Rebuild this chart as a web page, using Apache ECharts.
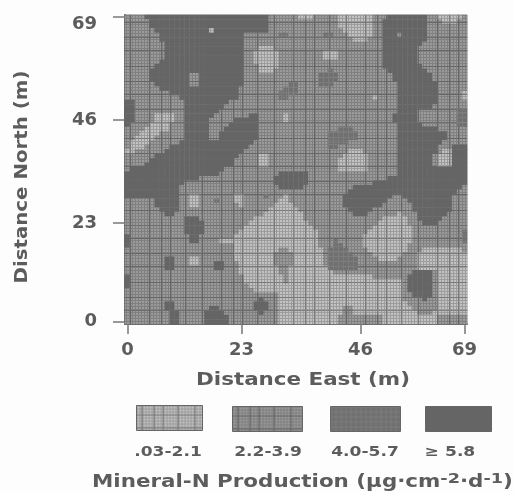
<!DOCTYPE html>
<html><head><meta charset="utf-8">
<style>html,body{margin:0;padding:0;background:#fdfdfd}#c{width:514px;height:492px;filter:blur(.6px)}</style>
<script src="https://cdn.jsdelivr.net/npm/echarts@6/dist/echarts.min.js"></script>
</head><body><div id="c"></div>
<script>
// Map rows from north (top) to south; each span is level:startColumn-endColumn, default level 2.
const levelRows = [
"4:4-29 1:35-38 1:43-50 4:53-61 1:63-68",
"4:5-29 1:43-50 4:52-61 1:64-67",
"4:5-29 1:43-50 4:52-61",
"4:6-29 1:17-18 1:44-50 4:52-61",
"4:7-24 3:31-33 3:40-42 1:45-50 4:52-61 2:55-56",
"4:7-24 1:46-49 4:52-61",
"4:8-24 4:52-60",
"4:8-24 1:27-30 4:52-59",
"4:8-24 1:26-31 1:40-43 4:52-59",
"4:8-24 1:26-31 1:40-43 4:52-59",
"4:7-24 1:26-31 4:52-59",
"4:6-24 1:27-31 4:52-60",
"4:5-24 1:27-30 3:41-42 4:53-61",
"4:5-24 2:13-15 3:39-43 4:54-62",
"4:5-24 2:13-15 3:39-43 4:54-62",
"4:6-24 2:13-15 3:33-35 3:39-42 4:55-63",
"4:7-23 3:32-35 4:55-63",
"4:9-23 3:31-35 4:55-63 1:68-69",
"4:11-23 3:31-33 1:50-51 4:55-63 1:68-69",
"4:0-2 4:12-21 4:55-63",
"4:0-2 4:12-20 4:55-62",
"4:0-2 4:12-19 4:55-59 3:67-69",
"4:0-2 1:6-10 4:12-18 4:25-27 1:32-33 4:54-59 3:67-69",
"4:0-2 1:6-10 4:12-17 4:22-27 1:32-33 4:54-59 3:67-69",
"4:0-1 1:5-9 4:12-17 4:21-27 4:55-60 3:67-69",
"1:4-9 4:12-17 4:20-27 3:43-46 4:55-63",
"1:3-7 4:12-17 4:19-27 3:41-47 4:55-65",
"1:2-6 4:12-17 4:19-27 3:41-47 4:55-65",
"1:1-5 4:11-26 3:41-45 4:55-64",
"1:1-4 4:9-25 3:41-43 4:55-63 4:66-69",
"1:0-2 4:8-24 1:45-48 4:55-63 1:64-66 4:66-69",
"4:6-23 1:27-29 1:44-49 4:55-62 1:63-66 4:66-69",
"4:5-22 1:27-29 1:43-49 4:55-62 1:63-66 4:66-69",
"4:4-22 1:27-29 1:43-49 4:55-62 1:63-66 4:66-69",
"4:1-20 1:43-49 4:55-69",
"4:0-19 4:31-37 4:55-69",
"4:0-15 4:30-37 4:53-69",
"4:0-12 4:30-37 4:50-69",
"4:0-11 4:31-36 4:46-68",
"4:0-11 4:45-67",
"4:0-11 1:13-15 1:22-24 3:28-29 1:32-33 4:44-54 4:56-66",
"4:6-11 1:13-15 3:18-19 1:22-24 1:31-33 4:44-53 4:57-66",
"4:6-11 1:13-15 1:23-24 1:30-34 4:44-52 4:58-66",
"4:7-11 1:29-35 4:45-50 4:58-66",
"4:8-10 1:28-36 4:46-49 1:55-56 4:59-65",
"4:12-15 1:26-36 1:52-57 4:59-64",
"4:12-16 1:25-37 1:51-57 4:60-63",
"4:12-16 1:24-38 1:50-58",
"4:12-16 1:23-39 1:49-58 3:68-69",
"4:13-15 4:0-1 1:22-39 1:48-58 3:68-69",
"4:13-15 4:0-1 1:19-39 3:42-43 1:48-58 3:68-69",
"4:0-1 1:22-39 3:42-44 1:48-57",
"1:22-40 2:31-33 3:41-45 1:49-57 1:60-68",
"1:22-40 2:30-34 3:41-46 1:50-56 1:59-69",
"4:8-10 1:13-15 1:22-40 2:30-34 3:41-47 1:51-55 1:59-69",
"4:8-10 1:13-15 4:18-20 1:23-40 2:30-34 3:41-47 1:59-69",
"4:8-10 4:18-20 1:23-41 2:31-33 3:41-47 1:59-69",
"1:23-42 2:31-33 4:58-62 1:63-69",
"4:0-1 1:24-50 2:32-33 4:57-62 1:63-69",
"4:0-1 1:24-56 2:32-33 4:57-62 1:63-69",
"4:0-1 1:25-56 4:57-62 1:63-69",
"1:26-56 4:57-62 1:63-69",
"1:31-56 4:58-62 1:63-69",
"4:27-28 1:31-56 4:60-61 1:63-69",
"4:8-10 4:26-29 1:31-57 1:63-69",
"4:8-10 4:17-19 4:26-29 1:31-44 1:46-58 1:63-69",
"4:9-11 4:16-20 4:27-28 1:31-44 1:46-59 1:62-69",
"4:9-11 4:16-21 1:31-43 1:52-63",
"4:9-11 4:16-21 1:31-43 1:52-63"
];
const xTickIndex = [0, 23, 47, 68];
const xTickLabels = ["0", "23", "46", "69"];
const yTickIndex = [0, 22, 45, 68];
const yTickLabels = ["0", "23", "46", "69"];
const legendLabels = [".03-2.1", "2.2-3.9", "4.0-5.7", "≥ 5.8"];

const INK = '#5c5c5c';
const FONT = '"DejaVu Sans", sans-serif';

function hatch(base, lines, heavy, step) {
  const size = 72, cv = document.createElement('canvas');
  cv.width = cv.height = size;
  const g = cv.getContext('2d');
  g.fillStyle = base; g.fillRect(0, 0, size, size);
  if (step) {
    g.fillStyle = lines;
    for (let i = 0; i < size; i += step) { g.fillRect(i, 0, 1, size); g.fillRect(0, i, size, 1); }
  }
  if (heavy) {
    g.fillStyle = heavy;
    [5, 17, 26, 41, 58].forEach(i => g.fillRect(i, 0, 1, size));
    [9, 22, 37, 50, 66].forEach(i => g.fillRect(0, i, size, 1));
  }
  return { image: cv, repeat: 'repeat' };
}
const fills = {
  1: hatch('#c2c2c2', '#9c9c9c', '#7a7a7a', 3),
  2: hatch('#9a9a9a', '#808080', '#666666', 3),
  3: hatch('#707070', '#7c7c7c', null, 5),
  4: hatch('#656565', null, null, 0)
};

const nCols = 69, nRows = levelRows.length;
const cells = [];
levelRows.forEach((row, r) => {
  const line = new Array(nCols).fill(2);
  row.split(' ').forEach(span => {
    const [lev, range] = span.split(':');
    const [a, b] = range.split('-').map(Number);
    for (let c = a; c < b; c++) line[c] = +lev;
  });
  line.forEach((lev, c) => cells.push({ value: [c, nRows - 1 - r, lev], itemStyle: { color: fills[lev] } }));
});
const xCats = Array.from({ length: nCols }, (_, i) => String(i));
const yCats = Array.from({ length: nRows }, (_, i) => String(i));

const legendX = [136, 232, 330, 425];
const legendW = [66, 70, 70, 66];
const legendCx = [168, 268, 365, 450];
const graphic = [];
legendLabels.forEach((t, i) => {
  graphic.push({ type: 'rect', left: legendX[i], top: 405 + (i > 0 ? 1 : 0), shape: { width: legendW[i], height: 25 },
    style: { fill: fills[i + 1], stroke: '#666', lineWidth: 1 } });
  graphic.push({ type: 'text', x: legendCx[i], y: 452, scaleX: 1.22,
    style: { text: t, fill: INK, font: 'bold 14px ' + FONT, align: 'center', verticalAlign: 'middle' } });
});
graphic.push({ type: 'text', x: 92, y: 483, scaleX: 1.26, style: {
  text: 'Mineral-N Production (μg·cm{s|-2}·d{s|-1})',
  fill: INK, font: 'bold 17px ' + FONT, verticalAlign: 'middle',
  rich: { s: { font: 'bold 14px ' + FONT, fill: INK, padding: [0, 0, 8, 0] } }
} });
graphic.push({ type: 'text', x: 303, y: 380, scaleX: 1.19, style: {
  text: 'Distance East (m)', fill: INK, font: 'bold 18px ' + FONT, align: 'center', verticalAlign: 'middle' } });
graphic.push({ type: 'text', x: 22, y: 177, rotation: Math.PI / 2, scaleX: 1.1, style: {
  text: 'Distance North (m)', fill: INK, font: 'bold 18px ' + FONT, align: 'center', verticalAlign: 'middle' } });

const chart = echarts.init(document.getElementById('c'), null, { renderer: 'canvas' });
chart.setOption({
  animation: false,
  backgroundColor: '#fdfdfd',
  grid: { left: 125, top: 15, width: 342, height: 309, show: true, borderColor: '#999', borderWidth: 1, backgroundColor: 'transparent' },
  xAxis: { type: 'category', data: xCats, position: 'bottom',
    axisLine: { show: true, lineStyle: { color: '#666', width: 2 } },
    axisTick: { show: true, alignWithLabel: true, length: 10, interval: i => xTickIndex.includes(i), lineStyle: { color: '#777', width: 1.5 } },
    axisLabel: { interval: i => xTickIndex.includes(i), margin: 17, color: INK, fontFamily: FONT, fontWeight: 'bold', fontSize: 18,
      formatter: (v, i) => { const k = xTickIndex.indexOf(+v); return k < 0 ? '' : xTickLabels[k]; } },
    splitLine: { show: false }, splitArea: { show: false } },
  yAxis: { type: 'category', data: yCats,
    axisLine: { show: true, lineStyle: { color: '#666', width: 2 } },
    axisTick: { show: true, alignWithLabel: true, length: 12, interval: i => yTickIndex.includes(i), lineStyle: { color: '#777', width: 1.5 } },
    axisLabel: { interval: i => yTickIndex.includes(i), margin: 28, color: INK, fontFamily: FONT, fontWeight: 'bold', fontSize: 18,
      formatter: v => { const k = yTickIndex.indexOf(+v); if (k < 0) return ''; return k === 3 ? '{t|' + yTickLabels[k] + '}' : yTickLabels[k]; },
      rich: { t: { color: INK, fontFamily: FONT, fontWeight: 'bold', fontSize: 18, padding: [14, 0, 0, 0] } } },
    splitLine: { show: false }, splitArea: { show: false } },
  series: [{ type: 'heatmap', data: cells, progressive: 0, emphasis: { disabled: true }, itemStyle: { borderWidth: 0 } }],
  graphic: graphic
});
</script></body></html>
